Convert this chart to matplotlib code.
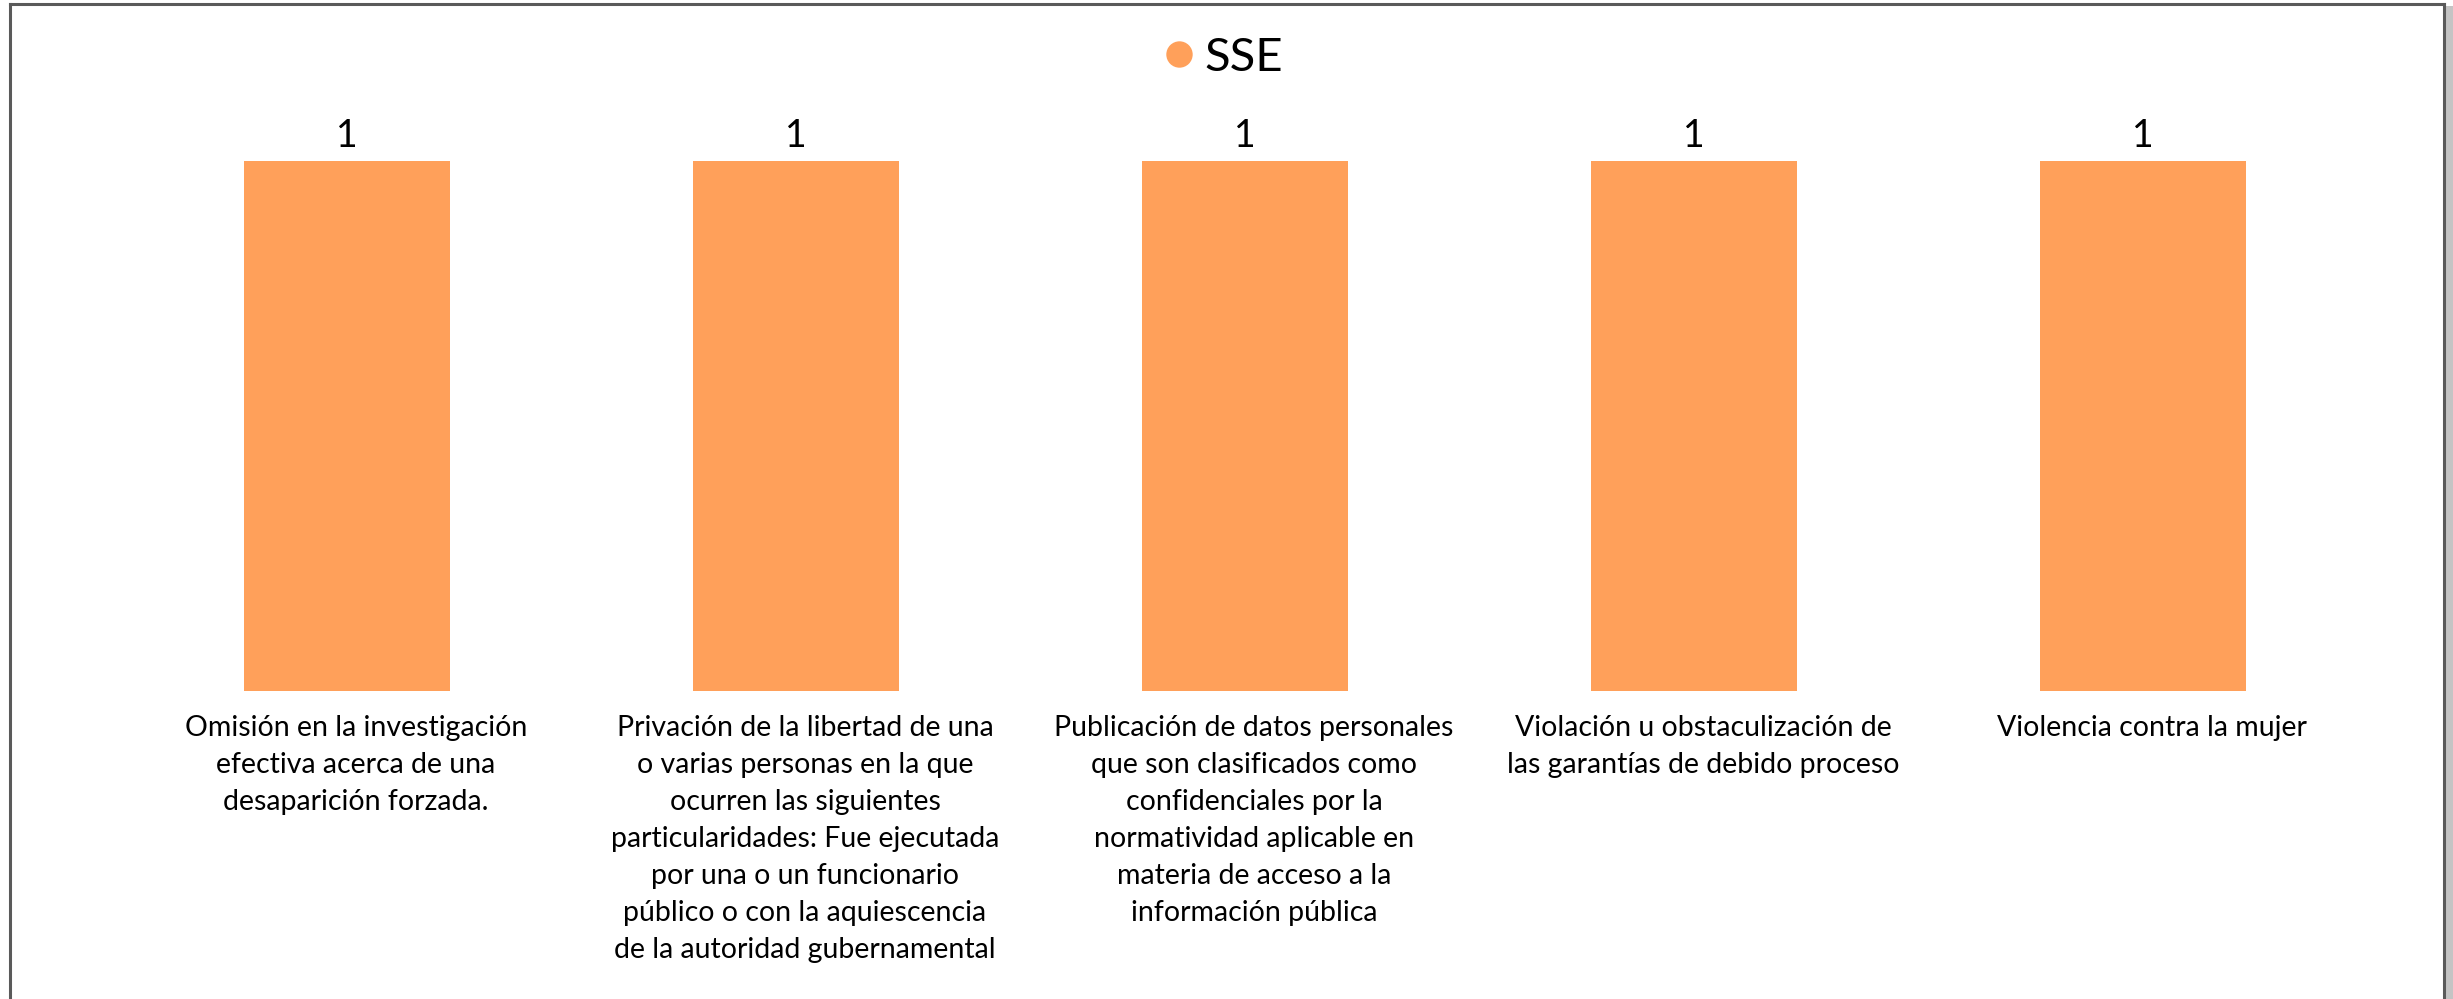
import matplotlib
matplotlib.use("Agg")
import matplotlib.pyplot as plt
from matplotlib.patches import Rectangle
from matplotlib.lines import Line2D
from matplotlib.transforms import ScaledTranslation

categories = [
    "Omisión en la investigación\nefectiva acerca de una\ndesaparición forzada.",
    "Privación de la libertad de una\no varias personas en la que\nocurren las siguientes\nparticularidades: Fue ejecutada\npor una o un funcionario\npúblico o con la aquiescencia\nde la autoridad gubernamental",
    "Publicación de datos personales\nque son clasificados como\nconfidenciales por la\nnormatividad aplicable en\nmateria de acceso a la\ninformación pública",
    "Violación u obstaculización de\nlas garantías de debido proceso",
    "Violencia contra la mujer",
]
series_name = "SSE"
values = [1, 1, 1, 1, 1]

W, H = 2453, 999
DPI = 100
plt.rcParams['font.family'] = ['Lato', 'DejaVu Sans']

fig = plt.figure(figsize=(W / DPI, H / DPI), dpi=DPI)
fig.patch.set_facecolor("white")

# frame border with shadow
fig.add_artist(Rectangle((2446 / W, 0), 7 / W, 1 - 6 / H, transform=fig.transFigure,
                         facecolor="#c4c4c4", edgecolor="none"))
fig.add_artist(Line2D([10 / W, 10 / W], [0, 1 - 4 / H], transform=fig.transFigure,
                      color="#5a5a5a", lw=2.2))
fig.add_artist(Line2D([2444 / W, 2444 / W], [0, 1 - 4 / H], transform=fig.transFigure,
                      color="#5a5a5a", lw=2.2))
fig.add_artist(Line2D([10 / W, 2444 / W], [1 - 4 / H, 1 - 4 / H], transform=fig.transFigure,
                      color="#5a5a5a", lw=2.2))

# axes geometry (pixels)
left_px, right_px = 122.5, 2367.5
bottom_px = 691
unit_px = 530
ymax = 1.25
ax = fig.add_axes([left_px / W, (H - bottom_px) / H,
                   (right_px - left_px) / W, unit_px * ymax / H])
ax.set_xlim(-0.5, len(categories) - 0.5)
ax.set_ylim(0, ymax)

color = "#FFA05A"
x = range(len(categories))
bars = ax.bar(x, values, width=0.459, color=color, edgecolor="none")
for xi, v in zip(x, values):
    ax.text(xi, v + 0.014, str(v), ha="center", va="bottom", fontsize=27, color="black")

ax.set_xticks(list(x))
ax.set_xticklabels(categories, fontsize=20.5, color="black", linespacing=1.53)
ax.tick_params(axis="x", length=0, pad=17)
shift = ScaledTranslation(9 / DPI, 0, fig.dpi_scale_trans)
for lbl in ax.get_xticklabels():
    lbl.set_transform(lbl.get_transform() + shift)
ax.set_yticks([])
for s in ax.spines.values():
    s.set_visible(False)

# legend
leg_handle = Line2D([], [], marker="o", linestyle="none", markersize=19,
                    markerfacecolor=color, markeredgecolor="none")
fig.legend([leg_handle], [series_name], loc="center", bbox_to_anchor=(1219 / W, 1 - 58 / H),
           frameon=False, fontsize=34, handletextpad=0.05, handlelength=1.0)

fig.savefig("out.png", dpi=DPI)
